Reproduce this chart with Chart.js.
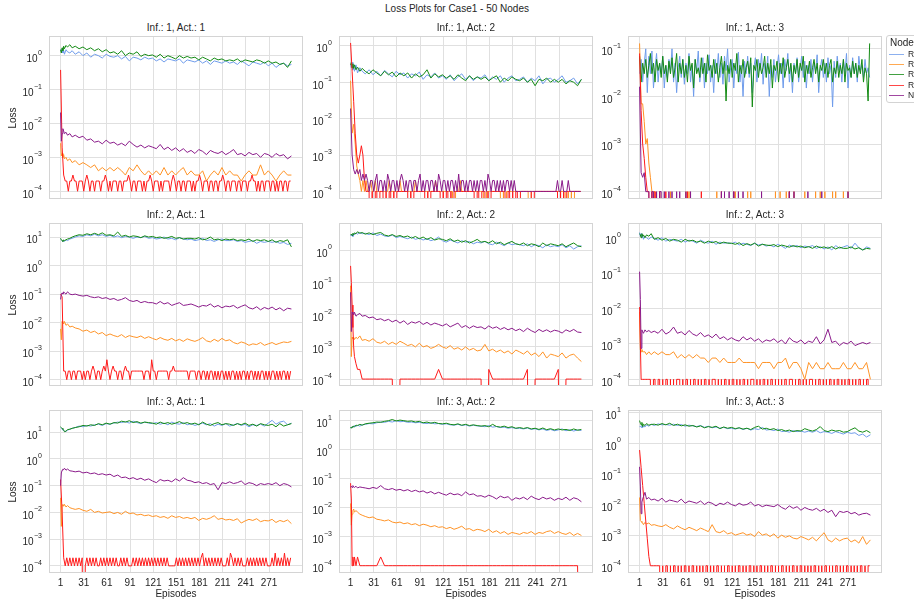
<!DOCTYPE html>
<html>
<head>
<meta charset="utf-8">
<script src="https://cdn.jsdelivr.net/npm/chart.js@4.4.1/dist/chart.umd.min.js"></script>
<style>
  html, body { margin: 0; padding: 0; background: #fff; }
  #fig { position: relative; width: 914px; height: 603px; overflow: hidden; font-family: "Liberation Sans", Arial, sans-serif; color: #262626; }
  .txt { position: absolute; white-space: nowrap; line-height: 1; }
  .panel { position: absolute; }
  #legend { position: absolute; left: 886px; top: 35px; width: 80px; height: 66px; border: 1px solid #d3d3d3; border-radius: 3px; background: #fff; }
</style>
</head>
<body>
<div id="fig"></div>
<script>
// ── Data ──────────────────────────────────────────────────────────────────────
// episodes (dense at the start, every 5 afterwards)
const EPISODES = [1, 2, 3, 4, 5, 6, 8, 10, 13, 16,
    20, 25, 30, 35, 40, 45, 50, 55, 60, 65,
    70, 75, 80, 85, 90, 95, 100, 105, 110, 115,
    120, 125, 130, 135, 140, 145, 150, 155, 160, 165,
    170, 175, 180, 185, 190, 195, 200, 205, 210, 215,
    220, 225, 230, 235, 240, 245, 250, 255, 260, 265,
    270, 275, 280, 285, 290, 295, 300];
// every other episode (1, 3, ... 299) for the spiky series
const EPISODES_DENSE = Array.from({ length: 150 }, (_, k) => 1 + 2 * k);
const X_TICKS = [1, 31, 61, 91, 121, 151, 181, 211, 241, 271];
const SERIES_LABELS = ['Random', 'Rank', 'Reach', 'Risk', 'None'];
const SERIES_COLORS = ['#6f9ceb', '#ff9326', '#138a13', '#ff1a1a', '#8a1a8a'];
// the spiky series are read in steps of 1e-4 (the loss is logged to 4 decimals)
const Q = 1e-4;

// Inf.: 1, Act.: 1
const i1a1Blue = [1.5, 1.3, 1.6, 1.2, 1.4, 1.1, 1.5, 1.3, 1.2, 1.4,
    1.1, 1.3, 1.0, 1.2, 0.9, 1.1, 1.0, 0.85, 1.1, 0.95,
    0.9, 1.0, 0.8, 0.95, 0.7, 0.9, 0.85, 0.75, 0.9, 0.8,
    0.85, 0.7, 0.8, 0.65, 0.8, 0.75, 0.7, 0.8, 0.6, 0.75,
    0.7, 0.65, 0.75, 0.6, 0.7, 0.55, 0.7, 0.65, 0.6, 0.7,
    0.6, 0.65, 0.55, 0.7, 0.6, 0.5, 0.65, 0.6, 0.55, 0.65,
    0.5, 0.6, 0.45, 0.55, 0.6, 0.5, 0.55];
const i1a1Orange = [2.6e-3, 1.1e-3, 1.3e-3, 1e-3, 1.2e-3, 9e-4, 1e-3, 8e-4, 9e-4, 7e-4,
    8e-4, 6e-4, 7e-4, 6e-4, 5e-4, 6e-4, 4e-4, 5e-4, 4e-4, 5e-4,
    4e-4, 5e-4, 4e-4, 3e-4, 5e-4, 4e-4, 6e-4, 4e-4, 3e-4, 4e-4,
    3e-4, 4e-4, 3e-4, 5e-4, 3e-4, 4e-4, 3e-4, 4e-4, 5e-4, 3e-4,
    4e-4, 3e-4, 3e-4, 4e-4, 2e-4, 3e-4, 4e-4, 3e-4, 5e-4, 3e-4,
    4e-4, 3e-4, 3e-4, 2e-4, 3e-4, 4e-4, 3e-4, 3e-4, 6e-4, 3e-4,
    4e-4, 3e-4, 2e-4, 3e-4, 4e-4, 3e-4, 3e-4];
const i1a1Green = [1.5, 1.2, 1.7, 1.4, 1.9, 1.6, 2.0, 1.8, 2.1, 1.7,
    1.9, 1.6, 1.8, 1.5, 1.7, 1.4, 1.6, 1.3, 1.5, 1.2,
    1.3, 1.1, 1.4, 1.0, 1.2, 1.1, 1.3, 0.95, 1.1, 1.0,
    1.05, 0.9, 1.1, 0.85, 1.0, 0.9, 0.8, 1.0, 0.85, 0.95,
    0.85, 0.9, 0.75, 0.9, 0.8, 0.7, 0.85, 0.75, 0.8, 0.7,
    0.75, 0.7, 0.8, 0.65, 0.75, 0.7, 0.65, 0.75, 0.7, 0.6,
    0.7, 0.6, 0.65, 0.55, 0.6, 0.45, 0.7];
const i1a1RedQ = [3800, 20, 3, 2, 2, 1, 2, 2, 3, 2,
    2, 1, 2, 2, 2, 1, 2, 3, 2, 1,
    2, 2, 1, 2, 2, 2, 1, 2, 2, 3,
    2, 1, 2, 1, 2, 2, 2, 1, 2, 2,
    1, 2, 2, 2, 3, 2, 1, 2, 2, 1,
    2, 2, 2, 1, 2, 1, 2, 2, 3, 2,
    1, 2, 2, 2, 1, 2, 1, 2, 2, 2,
    2, 1, 2, 3, 2, 1, 2, 2, 1, 2,
    2, 1, 2, 2, 2, 1, 2, 1, 2, 2,
    3, 2, 1, 2, 2, 2, 1, 2, 2, 1,
    2, 2, 1, 2, 2, 3, 2, 1, 2, 2,
    1, 2, 2, 2, 1, 2, 2, 1, 2, 2,
    2, 1, 2, 2, 3, 2, 2, 1, 2, 1,
    2, 2, 1, 2, 2, 2, 1, 2, 2, 1,
    2, 1, 2, 2, 1, 2, 2, 1, 2, 2];
const i1a1Purple = [0.021, 3e-3, 5e-3, 7e-3, 6e-3, 5e-3, 5.5e-3, 4.5e-3, 5e-3, 4e-3,
    4.5e-3, 3.8e-3, 4.2e-3, 3.2e-3, 3.5e-3, 2.8e-3, 3e-3, 2.5e-3, 3.2e-3, 2.6e-3,
    2.8e-3, 2.3e-3, 2.6e-3, 2.2e-3, 3e-3, 2.4e-3, 2e-3, 2.3e-3, 1.9e-3, 2.2e-3,
    2e-3, 1.8e-3, 2.4e-3, 1.7e-3, 2e-3, 1.6e-3, 1.9e-3, 1.5e-3, 1.8e-3, 1.4e-3,
    1.6e-3, 1.3e-3, 1.7e-3, 1.5e-3, 1.2e-3, 1.6e-3, 1.4e-3, 1.3e-3, 1.5e-3, 1.2e-3,
    1.4e-3, 1.7e-3, 1.2e-3, 1.3e-3, 1.1e-3, 1.4e-3, 1.2e-3, 1.3e-3, 1.0e-3, 1.3e-3,
    1.2e-3, 1.0e-3, 1.3e-3, 1.1e-3, 1.2e-3, 0.9e-3, 1.1e-3];

// Inf.: 1, Act.: 2
const i1a2Blue = [0.3, 0.25, 0.35, 0.22, 0.28, 0.2, 0.3, 0.18, 0.25, 0.2,
    0.17, 0.22, 0.16, 0.2, 0.15, 0.21, 0.17, 0.14, 0.2, 0.16,
    0.18, 0.13, 0.17, 0.15, 0.19, 0.12, 0.16, 0.14, 0.18, 0.13,
    0.15, 0.12, 0.16, 0.11, 0.14, 0.17, 0.12, 0.15, 0.11, 0.14,
    0.13, 0.16, 0.11, 0.14, 0.12, 0.15, 0.1, 0.13, 0.15, 0.11,
    0.12, 0.14, 0.1, 0.13, 0.11, 0.15, 0.09, 0.12, 0.13, 0.1,
    0.12, 0.15, 0.1, 0.11, 0.13, 0.09, 0.12];
const i1a2OrangeQ = [1100, 40, 70, 20, 5, 3, 2, 1, 2, 1,
    2, 1, 1, 2, 1, 1, 2, 1, 1, 1,
    1, 1, 1, 1, 1, 2, 1, 1, 1, 1,
    1, 1, 2, 1, 1, 1, 1, 1, 1, 1,
    1, 1, 2, 1, 1, 1, 1, 1, 1, 1,
    1, 1, 1, 1, 1, 2, 1, 1, 1, 1,
    1, 1, 1, 1, 1, 1, 1, 0, 1, 1,
    1, 2, 1, 1, 1, 1, 1, 1, 1, 1,
    1, 1, 1, 1, 1, 1, 1, 0, 1, 1,
    1, 1, 1, 1, 1, 1, 1, 1, 0, 1,
    0, 1, 1, 1, 1, 1, 1, 1, 1, 1,
    1, 1, 1, 1, 1, 1, 0, 1, 1, 1,
    1, 1, 1, 1, 1, 1, 1, 1, 1, 1,
    1, 1, 1, 1, 1, 1, 1, 1, 1, 1,
    0, 1, 0, 1, 0, 1, 1, 1, 1, 1];
const i1a2Green = [0.3, 0.35, 0.25, 0.32, 0.24, 0.3, 0.22, 0.26, 0.2, 0.24,
    0.2, 0.17, 0.22, 0.18, 0.15, 0.2, 0.16, 0.19, 0.14, 0.18,
    0.15, 0.18, 0.13, 0.17, 0.14, 0.16, 0.22, 0.13, 0.17, 0.14,
    0.16, 0.13, 0.15, 0.12, 0.16, 0.13, 0.11, 0.15, 0.12, 0.14,
    0.12, 0.14, 0.11, 0.13, 0.15, 0.1, 0.13, 0.11, 0.14, 0.12,
    0.11, 0.13, 0.1, 0.12, 0.08, 0.12, 0.11, 0.13, 0.1, 0.12,
    0.1, 0.12, 0.09, 0.11, 0.1, 0.08, 0.12];
const i1a2RedQ = [12000, 2000, 300, 40, 10, 6, 10, 18, 10, 2,
    1, 1, 1, 0, 1, 0, 1, 1, 0, 1,
    1, 1, 0, 1, 0, 1, 1, 0, 1, 0,
    1, 1, 1, 1, 1, 1, 1, 1, 0, 1,
    0, 1, 1, 1, 1, 1, 1, 1, 1, 0,
    1, 0, 1, 1, 1, 1, 1, 1, 1, 0,
    1, 0, 1, 1, 0, 1, 0, 1, 1, 1,
    1, 1, 1, 1, 1, 1, 1, 1, 1, 1,
    1, 0, 1, 1, 0, 1, 1, 1, 0, 1,
    0, 1, 1, 1, 1, 1, 1, 1, 1, 1,
    1, 0, 1, 1, 0, 1, 0, 1, 1, 0,
    1, 1, 1, 1, 1, 1, 1, 1, 0, 1,
    1, 1, 1, 1, 1, 1, 1, 1, 1, 1,
    1, 1, 1, 1, 1, 0, 1, 0, 1, 0,
    1, 1, 1, 1, 1, 1, 1, 1, 1, 1];
const i1a2PurpleQ = [190, 10, 4, 3, 4, 3, 4, 2, 3, 2,
    3, 2, 1, 2, 2, 1, 2, 3, 1, 2,
    2, 1, 2, 1, 3, 2, 1, 2, 2, 1,
    2, 1, 2, 3, 2, 1, 2, 1, 2, 2,
    1, 2, 2, 1, 2, 3, 1, 2, 1, 2,
    2, 1, 2, 2, 1, 2, 1, 3, 2, 1,
    2, 2, 1, 2, 1, 2, 2, 1, 2, 1,
    3, 1, 2, 2, 1, 2, 1, 2, 2, 1,
    2, 1, 2, 1, 2, 2, 1, 2, 1, 3,
    2, 1, 2, 2, 1, 2, 1, 2, 1, 2,
    1, 2, 2, 1, 2, 1, 2, 1, 1, 1,
    1, 1, 1, 1, 1, 1, 1, 1, 1, 1,
    1, 1, 1, 1, 1, 1, 1, 1, 1, 1,
    1, 1, 1, 1, 2, 1, 1, 2, 1, 1,
    1, 2, 1, 1, 1, 1, 1, 1, 1, 1];

// Inf.: 1, Act.: 3
const i1a3BlueD = [.03, .06, .02, .05, .1, .012, .07, .03, .09, .015,
    .04, .08, .02, .05, .03, .07, .015, .045, .025, .06,
    .035, .1, .02, .05, .012, .04, .07, .025, .06, .018,
    .05, .03, .08, .02, .045, .01, .06, .035, .09, .02,
    .04, .065, .015, .05, .03, .075, .02, .045, .012, .06,
    .03, .08, .025, .05, .018, .07, .035, .1, .02, .04,
    .06, .015, .05, .03, .085, .02, .045, .01, .055, .03,
    .07, .025, .05, .012, .04, .065, .02, .06, .035, .08,
    .018, .05, .03, .07, .01, .045, .025, .06, .02, .04,
    .075, .03, .05, .015, .06, .035, .08, .02, .045, .012,
    .05, .03, .065, .02, .04, .07, .025, .055, .015, .045,
    .03, .06, .02, .05, .035, .075, .012, .04, .06, .025,
    .05, .02, .065, .03, .045, .006, .055, .025, .07, .035,
    .05, .02, .06, .03, .08, .015, .045, .025, .065, .03,
    .05, .02, .07, .035, .045, .025, .06, .03, .04, .025];
const i1a3OrangeQ = [1300, 70, 70, 30, 10, 13, 4, 2, 1, 1,
    1, 0, 0, 1, 0, 0, 0, 0, 0, 0,
    1, 0, 0, 0, 0, 0, 0, 0, 0, 0,
    1, 0, 1, 0, 0, 0, 0, 0, 0, 0,
    0, 0, 0, 0, 0, 0, 0, 0, 0, 0,
    1, 0, 0, 0, 0, 0, 0, 0, 0, 0,
    0, 0, 1, 0, 0, 0, 0, 0, 0, 0,
    1, 0, 1, 0, 0, 0, 0, 0, 0, 0,
    0, 0, 0, 0, 0, 0, 0, 0, 1, 0,
    0, 1, 0, 0, 0, 1, 0, 1, 0, 0,
    1, 0, 0, 0, 0, 0, 0, 1, 0, 0,
    0, 0, 0, 0, 1, 0, 0, 1, 0, 0,
    1, 0, 0, 0, 0, 1, 0, 1, 0, 0,
    0, 0, 1, 0, 0, 1, 0, 0, 0, 0,
    0, 0, 0, 0, 0, 0, 0, 0, 0, 0];
const i1a3GreenD = [.07, .02, .05, .03, .06, .025, .045, .08, .03, .05,
    .02, .06, .035, .05, .025, .07, .03, .045, .02, .055,
    .03, .065, .025, .04, .08, .02, .05, .03, .06, .025,
    .045, .02, .07, .035, .05, .015, .06, .03, .04, .025,
    .065, .03, .05, .02, .075, .035, .045, .025, .06, .03,
    .05, .02, .04, .07, .03, .055, .008, .045, .03, .06,
    .025, .05, .035, .08, .02, .045, .03, .06, .025, .04,
    .055, .03, .065, .006, .045, .035, .06, .025, .05, .03,
    .04, .07, .025, .05, .03, .06, .015, .045, .035, .055,
    .02, .05, .03, .065, .025, .04, .06, .03, .05, .02,
    .045, .03, .06, .025, .05, .035, .07, .02, .045, .03,
    .055, .025, .04, .06, .03, .05, .02, .045, .035, .06,
    .03, .05, .025, .045, .06, .02, .04, .03, .055, .025,
    .045, .03, .06, .02, .05, .035, .04, .025, .055, .03,
    .05, .025, .045, .03, .06, .02, .04, .03, .008, .13];
const i1a3RedQ = [800, 50, 10, 5, 2, 1, 1, 0, 1, 0,
    1, 0, 0, 1, 0, 0, 0, 1, 0, 0,
    0, 0, 0, 0, 0, 0, 0, 0, 0, 0,
    0, 1, 0, 0, 0, 0, 0, 0, 0, 0,
    1, 0, 0, 0, 0, 0, 0, 0, 0, 0,
    0, 0, 0, 1, 0, 0, 0, 0, 0, 0,
    0, 1, 0, 0, 0, 0, 0, 0, 0, 0,
    0, 0, 0, 0, 0, 0, 0, 0, 0, 0,
    0, 0, 0, 0, 0, 0, 0, 0, 0, 0,
    0, 0, 0, 0, 0, 0, 0, 1, 0, 0,
    0, 0, 0, 0, 0, 0, 0, 0, 0, 0,
    0, 0, 0, 0, 0, 0, 0, 0, 0, 0,
    0, 0, 0, 0, 0, 0, 0, 0, 0, 0,
    0, 0, 0, 0, 0, 0, 0, 0, 0, 0,
    0, 0, 0, 0, 0, 0, 0, 0, 0, 0];
const i1a3PurpleQ = [160, 2.5, 2, 2.5, 1, 1, 1, 0, 1, 1,
    0, 1, 0, 1, 1, 0, 1, 0, 0, 1,
    0, 1, 0, 0, 1, 0, 1, 0, 0, 0,
    1, 0, 0, 1, 0, 0, 0, 0, 0, 0,
    0, 0, 0, 0, 0, 0, 0, 0, 0, 0,
    0, 0, 0, 1, 0, 1, 0, 0, 1, 0,
    0, 1, 0, 0, 1, 0, 0, 1, 0, 0,
    0, 0, 0, 0, 0, 0, 0, 0, 0, 1,
    0, 0, 0, 0, 0, 0, 0, 0, 0, 0,
    0, 0, 0, 0, 0, 0, 0, 1, 0, 0,
    1, 0, 0, 0, 0, 0, 0, 0, 0, 1,
    0, 0, 0, 0, 0, 0, 0, 0, 1, 0,
    0, 0, 0, 0, 0, 0, 0, 0, 0, 0,
    0, 0, 0, 0, 0, 1, 0, 0, 0, 0,
    0, 0, 0, 0, 0, 0, 0, 0, 0, 0];

// Inf.: 2, Act.: 1
const i2a1Blue = [8.5, 8, 7.5, 7, 7.5, 7, 8, 7.5, 8.5, 9,
    10, 11, 10.5, 12, 11, 12.5, 11, 12, 10.5, 11.5,
    10, 11, 9.5, 10.5, 10, 9, 10, 9.5, 10.5, 9,
    9.5, 8.5, 9, 10, 8.5, 9, 8, 9.5, 8.5, 8,
    8.5, 7.5, 8, 9, 7.5, 8, 7, 8, 8.5, 7.5,
    7.5, 8, 7, 7.5, 6.5, 7, 7.5, 6, 7, 6.5,
    7, 6.5, 7, 6, 6.5, 5.5, 6];
const i2a1Orange = [6e-3, 2.5e-3, 0.011, 0.01, 9e-3, 0.011, 8e-3, 9e-3, 7e-3, 7.5e-3,
    6.5e-3, 6e-3, 5e-3, 5.5e-3, 4.5e-3, 5e-3, 4e-3, 4.5e-3, 3.5e-3, 4e-3,
    3.5e-3, 3.2e-3, 3.8e-3, 3e-3, 3.5e-3, 3.2e-3, 3e-3, 3.4e-3, 2.8e-3, 3.2e-3,
    2.8e-3, 2.5e-3, 3e-3, 2.6e-3, 2.4e-3, 2.8e-3, 2.3e-3, 2.6e-3, 2.2e-3, 2.7e-3,
    2.4e-3, 2.2e-3, 2.5e-3, 3e-3, 2.3e-3, 2.1e-3, 2.6e-3, 2.2e-3, 2.8e-3, 2.3e-3,
    2.5e-3, 2e-3, 1.8e-3, 2.1e-3, 1.9e-3, 1.6e-3, 1.8e-3, 1.7e-3, 2e-3, 1.6e-3,
    1.8e-3, 2e-3, 1.7e-3, 1.9e-3, 2.1e-3, 2e-3, 2.2e-3];
const i2a1Green = [9, 8, 7.5, 7, 8, 7.5, 8, 8.5, 9, 10,
    11, 12, 11.5, 13, 12, 13.5, 12, 14, 11.5, 12,
    11, 15, 10.5, 11.5, 10, 11, 10.5, 9.5, 11, 10,
    10.5, 9.5, 10, 9, 9.5, 10.5, 9, 9.5, 8.5, 9,
    9, 8.5, 9.5, 8, 8.5, 10, 8, 8.5, 7.5, 8.5,
    8, 8.5, 7.5, 8, 7.5, 8.5, 7, 8, 7.5, 8,
    7, 8, 6.5, 7.5, 7, 8, 4.5];
const i2a1RedQ = [1000, 800, 2, 2, 1, 2, 2, 1, 2, 2,
    1, 2, 2, 2, 1, 2, 1, 2, 2, 1,
    2, 3, 2, 1, 2, 2, 1, 2, 3, 2,
    5, 2, 1, 2, 3, 2, 2, 1, 2, 2,
    1, 2, 3, 2, 2, 1, 2, 2, 2, 2,
    2, 2, 2, 2, 1, 2, 2, 2, 1, 5,
    2, 2, 1, 2, 2, 2, 2, 2, 2, 2,
    1, 2, 2, 3, 2, 2, 2, 2, 2, 2,
    2, 2, 2, 1, 2, 2, 2, 2, 1, 2,
    2, 1, 2, 2, 1, 2, 1, 2, 2, 1,
    2, 1, 2, 1, 2, 2, 1, 2, 1, 2,
    1, 2, 2, 1, 2, 1, 2, 1, 2, 2,
    1, 2, 1, 2, 2, 1, 2, 1, 2, 1,
    2, 2, 1, 2, 1, 2, 1, 2, 2, 1,
    2, 1, 2, 1, 2, 2, 1, 2, 1, 2];
const i2a1Purple = [0.065, 0.1, 0.11, 0.1, 0.12, 0.11, 0.1, 0.12, 0.1, 0.095,
    0.1, 0.09, 0.085, 0.09, 0.08, 0.075, 0.08, 0.07, 0.075, 0.065,
    0.07, 0.06, 0.065, 0.075, 0.06, 0.055, 0.06, 0.05, 0.055, 0.05,
    0.05, 0.045, 0.055, 0.045, 0.05, 0.04, 0.045, 0.05, 0.04, 0.042,
    0.045, 0.04, 0.035, 0.04, 0.038, 0.045, 0.035, 0.04, 0.033, 0.038,
    0.036, 0.04, 0.032, 0.037, 0.042, 0.033, 0.03, 0.036, 0.028, 0.034,
    0.03, 0.035, 0.028, 0.033, 0.026, 0.032, 0.03];

// Inf.: 2, Act.: 2
const i2a2Blue = [3, 2.8, 3.2, 2.7, 3.3, 3, 3.5, 3.2, 3.6, 3.3,
    3.4, 3.1, 3.5, 2.9, 3.2, 2.8, 2.7, 3, 2.5, 2.7,
    2.5, 2.3, 2.6, 2.2, 2.4, 2.1, 2.3, 2, 2.2, 2.6,
    2, 1.8, 2.1, 1.9, 1.7, 2, 1.8, 1.9, 1.6, 1.8,
    1.7, 1.9, 1.6, 1.5, 1.8, 1.6, 1.4, 1.7, 1.5, 1.6,
    1.5, 1.4, 1.6, 1.3, 1.5, 1.4, 1.2, 1.5, 1.3, 1.4,
    1.3, 1.5, 1.2, 1.4, 1.1, 1.3, 1.4];
const i2a2Orange = [0.08, 5e-4, 2e-3, 1.8e-3, 2e-3, 1.7e-3, 2e-3, 1.8e-3, 2.2e-3, 1.6e-3,
    1.7e-3, 1.5e-3, 1.8e-3, 1.4e-3, 1.3e-3, 1.5e-3, 1.2e-3, 1.4e-3, 1.2e-3, 1.5e-3,
    1.3e-3, 1.1e-3, 1.2e-3, 1e-3, 1.3e-3, 1e-3, 1.1e-3, 9e-4, 1e-3, 1.2e-3,
    1e-3, 9e-4, 1.1e-3, 8.5e-4, 9.5e-4, 8e-4, 1e-3, 8e-4, 9e-4, 7.5e-4,
    8e-4, 1.2e-3, 7.5e-4, 8.5e-4, 7e-4, 8e-4, 6.5e-4, 7.5e-4, 6e-4, 8e-4,
    7e-4, 6e-4, 7.5e-4, 5.5e-4, 6.5e-4, 5e-4, 7e-4, 4.5e-4, 6e-4, 5.5e-4,
    5e-4, 6.5e-4, 4.5e-4, 5.5e-4, 6e-4, 4.5e-4, 3.5e-4];
const i2a2Green = [3, 3.2, 2.9, 3.4, 3.1, 3.5, 3.3, 3.8, 3.4, 3.6,
    3.2, 3.5, 3.1, 3.4, 3.6, 3, 2.8, 3.1, 2.7, 2.9,
    2.6, 2.8, 2.4, 2.7, 2.3, 2.6, 2.2, 2.5, 2.1, 2.3,
    2.2, 2, 2.3, 1.9, 2.1, 1.8, 2, 1.7, 1.9, 2.2,
    1.8, 1.9, 1.7, 2, 1.6, 1.8, 1.5, 1.7, 1.9, 1.6,
    1.5, 1.7, 1.4, 1.6, 1.5, 1.3, 1.7, 1.4, 1.6, 1.5,
    1.4, 1.6, 1.3, 1.5, 1.7, 1.4, 1.3];
const i2a2Red = [0.33, 0.1, 0.02, 4e-3, 1e-3, 5e-4, 3e-4, 2e-4, 2e-4, 1e-4,
    1e-4, 1e-4, 1e-4, 1e-4, 1e-4, 1e-4, 1e-4, 1e-4, 0, 1e-4,
    1e-4, 1e-4, 1e-4, 1e-4, 1e-4, 1e-4, 1e-4, 1e-4, 1e-4, 2e-4,
    1e-4, 1e-4, 1e-4, 1e-4, 1e-4, 1e-4, 1e-4, 1e-4, 1e-4, 1e-4,
    1e-4, 0, 2e-4, 1e-4, 1e-4, 1e-4, 1e-4, 1e-4, 1e-4, 1e-4,
    1e-4, 1e-4, 2e-4, 0, 1e-4, 1e-4, 1e-4, 1e-4, 1e-4, 1e-4,
    2e-4, 0, 1e-4, 1e-4, 1e-4, 1e-4, 1e-4];
const i2a2Purple = [0.05, 3e-3, 0.012, 0.011, 0.01, 0.012, 0.009, 0.01, 0.011, 0.009,
    0.0095, 0.008, 0.0085, 0.007, 0.0075, 0.0065, 0.0072, 0.006, 0.0068, 0.0055,
    0.0065, 0.005, 0.006, 0.0055, 0.0062, 0.005, 0.0058, 0.0048, 0.0055, 0.005,
    0.0045, 0.0052, 0.0042, 0.0048, 0.0055, 0.004, 0.0046, 0.0038, 0.0045, 0.004,
    0.0042, 0.0036, 0.0045, 0.0038, 0.0042, 0.0035, 0.004, 0.0034, 0.0038, 0.0032,
    0.0036, 0.003, 0.0038, 0.0032, 0.0028, 0.0035, 0.003, 0.0034, 0.0029, 0.0033,
    0.0031, 0.0027, 0.0034, 0.003, 0.0035, 0.0029, 0.0028];

// Inf.: 2, Act.: 3
const i2a3Blue = [1.4, 1.1, 1.3, 1.0, 1.2, 0.9, 1.1, 1.0, 0.9, 1.05,
    0.95, 0.85, 1.0, 0.8, 0.9, 0.85, 0.8, 0.9, 0.75, 0.85,
    0.8, 0.7, 0.85, 0.75, 0.7, 0.8, 0.65, 0.75, 0.7, 0.72,
    0.68, 0.75, 0.62, 0.7, 0.65, 0.6, 0.7, 0.62, 0.66, 0.58,
    0.62, 0.55, 0.65, 0.58, 0.5, 0.62, 0.56, 0.6, 0.52, 0.58,
    0.55, 0.6, 0.5, 0.56, 0.48, 0.55, 0.45, 0.6, 0.5, 0.55,
    0.6, 0.5, 0.7, 0.52, 0.45, 0.55, 0.5];
const i2a3Orange = [8e-3, 7e-4, 6e-4, 7e-4, 6e-4, 6e-4, 6e-4, 5e-4, 6e-4, 5e-4,
    6e-4, 5e-4, 6e-4, 5e-4, 5e-4, 6e-4, 4e-4, 5e-4, 4e-4, 5e-4,
    4e-4, 5e-4, 4e-4, 4e-4, 3e-4, 4e-4, 4e-4, 3e-4, 4e-4, 3e-4,
    3e-4, 3e-4, 4e-4, 3e-4, 3e-4, 3e-4, 3e-4, 2e-4, 3e-4, 3e-4,
    3e-4, 2e-4, 3e-4, 3e-4, 4e-4, 2e-4, 3e-4, 3e-4, 2e-4, 1e-4,
    3e-4, 2e-4, 3e-4, 2e-4, 2e-4, 3e-4, 2e-4, 2e-4, 2e-4, 3e-4,
    2e-4, 2e-4, 3e-4, 2e-4, 2e-4, 3e-4, 1e-4];
const i2a3Green = [1.3, 1.2, 1.0, 1.3, 1.1, 1.2, 1.0, 1.2, 1.1, 1.3,
    0.9, 1.0, 0.85, 0.95, 0.8, 0.9, 0.85, 0.75, 0.9, 0.8,
    0.85, 0.75, 0.8, 0.7, 0.8, 0.72, 0.78, 0.68, 0.75, 0.7,
    0.7, 0.65, 0.72, 0.6, 0.68, 0.62, 0.7, 0.58, 0.65, 0.62,
    0.6, 0.64, 0.56, 0.62, 0.58, 0.54, 0.6, 0.55, 0.58, 0.52,
    0.56, 0.5, 0.58, 0.52, 0.55, 0.5, 0.56, 0.48, 0.54, 0.5,
    0.5, 0.55, 0.48, 0.52, 0.45, 0.5, 0.48];
const i2a3RedQ = [110, 1, 1, 1, 1, 1, 1, 1, 0, 1,
    1, 0, 1, 1, 0, 1, 0, 1, 1, 0,
    1, 0, 1, 0, 1, 1, 1, 0, 1, 0,
    1, 1, 0, 1, 0, 1, 1, 0, 1, 0,
    1, 0, 1, 1, 0, 1, 0, 1, 1, 1,
    0, 1, 0, 1, 0, 1, 1, 0, 1, 0,
    1, 1, 0, 1, 0, 1, 0, 1, 1, 0,
    1, 0, 1, 1, 1, 0, 1, 0, 1, 0,
    1, 1, 0, 1, 0, 1, 1, 0, 1, 0,
    1, 0, 1, 0, 1, 1, 0, 1, 1, 1,
    0, 1, 0, 1, 1, 0, 1, 0, 1, 0,
    1, 1, 1, 0, 1, 0, 1, 1, 0, 1,
    0, 1, 0, 1, 1, 0, 1, 0, 1, 1,
    0, 1, 0, 1, 0, 1, 1, 0, 1, 0,
    1, 0, 1, 1, 0, 1, 0, 1, 1, 0];
const i2a3Purple = [0.11, 0.018, 7.5e-4, 2.5e-3, 2.2e-3, 2e-3, 2.5e-3, 2.2e-3, 2.4e-3, 2.1e-3,
    2.3e-3, 2e-3, 2.6e-3, 1.9e-3, 2.2e-3, 3e-3, 2e-3, 2.2e-3, 1.8e-3, 2.4e-3,
    1.9e-3, 1.7e-3, 2.1e-3, 1.6e-3, 1.8e-3, 1.5e-3, 1.9e-3, 1.4e-3, 1.6e-3, 1.3e-3,
    1.5e-3, 1.3e-3, 1.2e-3, 1.6e-3, 1.3e-3, 1.5e-3, 1.2e-3, 1.4e-3, 1.1e-3, 1.3e-3,
    1.2e-3, 1.4e-3, 1.1e-3, 1.3e-3, 1.0e-3, 1.5e-3, 1.2e-3, 1.1e-3, 1.3e-3, 1.0e-3,
    1.2e-3, 1.1e-3, 1.6e-3, 1.0e-3, 1.3e-3, 2.6e-3, 1.1e-3, 1.2e-3, 0.9e-3, 1.1e-3,
    1.0e-3, 1.2e-3, 0.9e-3, 1.0e-3, 1.1e-3, 1.0e-3, 1.1e-3];

// Inf.: 3, Act.: 1
const i3a1Blue = [15, 14, 13, 12, 11.5, 11, 10.5, 12, 13, 14,
    15, 17, 16, 18, 17, 19, 20, 18, 21, 20,
    22, 24, 23, 25, 22, 26, 23, 21, 24, 22,
    21, 23, 20, 22, 19, 24, 21, 20, 23, 19,
    21, 18, 20, 22, 19, 21, 17, 20, 18, 21,
    17, 19, 21, 18, 20, 16, 19, 18, 20, 17,
    22, 28, 20, 24, 26, 19, 22];
const i3a1Orange = [0.035, 3e-3, 0.018, 0.02, 0.017, 0.02, 0.016, 0.018, 0.015, 0.014,
    0.013, 0.014, 0.012, 0.011, 0.013, 0.01, 0.011, 0.0095, 0.01, 0.0105,
    0.009, 0.01, 0.0085, 0.011, 0.009, 0.0095, 0.008, 0.0085, 0.0075, 0.008,
    0.007, 0.0075, 0.0065, 0.007, 0.006, 0.0075, 0.0065, 0.007, 0.006, 0.0065,
    0.0058, 0.0065, 0.005, 0.006, 0.0055, 0.0062, 0.0075, 0.0055, 0.006, 0.0052,
    0.0055, 0.005, 0.0058, 0.004, 0.0048, 0.0055, 0.005, 0.0058, 0.0045, 0.005,
    0.0048, 0.0055, 0.0042, 0.005, 0.0045, 0.0052, 0.0038];
const i3a1Green = [16, 15, 14, 13, 12, 10.5, 11, 12.5, 13, 14,
    15, 16, 18, 17, 19, 18, 21, 19, 22, 20,
    23, 22, 26, 24, 27, 23, 25, 22, 24, 23,
    22, 20, 24, 21, 23, 20, 22, 25, 21, 23,
    20, 22, 19, 24, 20, 18, 21, 23, 19, 21,
    20, 18, 21, 19, 22, 18, 20, 17, 21, 19,
    18, 20, 16, 21, 17, 19, 21];
const i3a1RedQ = [1700, 100, 2, 1, 2, 1, 2, 1, 2, 1,
    2, 1, 2, 1, 2, 0, 1, 2, 1, 2,
    1, 2, 1, 2, 1, 1, 2, 1, 2, 1,
    2, 1, 2, 1, 2, 1, 2, 1, 1, 2,
    1, 2, 1, 2, 1, 1, 1, 2, 1, 2,
    1, 2, 1, 2, 1, 2, 1, 2, 1, 2,
    1, 2, 1, 2, 1, 2, 1, 2, 1, 2,
    1, 1, 1, 1, 1, 2, 1, 2, 1, 2,
    1, 2, 1, 2, 1, 2, 1, 2, 1, 2,
    1, 2, 3, 1, 2, 1, 2, 1, 2, 1,
    2, 1, 2, 1, 2, 1, 1, 1, 2, 1,
    3, 2, 1, 2, 1, 2, 1, 2, 1, 1,
    1, 2, 1, 2, 1, 2, 1, 2, 1, 2,
    1, 2, 1, 2, 1, 1, 1, 2, 1, 3,
    1, 2, 1, 2, 1, 3, 1, 2, 1, 2];
const i3a1Purple = [0.1, 0.3, 0.38, 0.42, 0.4, 0.45, 0.38, 0.42, 0.36, 0.35,
    0.33, 0.35, 0.3, 0.32, 0.28, 0.3, 0.26, 0.28, 0.25, 0.27,
    0.22, 0.25, 0.2, 0.21, 0.18, 0.2, 0.17, 0.19, 0.16, 0.18,
    0.15, 0.13, 0.17, 0.15, 0.16, 0.14, 0.18, 0.15, 0.2, 0.16,
    0.15, 0.13, 0.14, 0.12, 0.13, 0.11, 0.12, 0.07, 0.13, 0.12,
    0.14, 0.12, 0.13, 0.15, 0.11, 0.13, 0.12, 0.1, 0.12, 0.11,
    0.12, 0.11, 0.13, 0.1, 0.12, 0.11, 0.09];

// Inf.: 3, Act.: 2
const i3a2Blue = [5.5, 6, 5.8, 6.5, 6, 6.8, 6.2, 7, 6.5, 7.2,
    7.5, 8, 7.8, 8.5, 9, 8.8, 9.5, 9, 10, 9.2,
    9.5, 8.8, 9, 8.5, 8.8, 8.2, 8, 8.5, 7.8, 8,
    7.5, 7.8, 7.2, 7, 7.5, 6.8, 7.2, 6.5, 7, 6.6,
    6.5, 6.2, 6.8, 6, 6.3, 5.8, 6, 5.5, 5.8, 5.4,
    5.5, 5.2, 5.6, 5, 5.3, 4.8, 5.2, 4.6, 5, 4.5,
    4.8, 5.2, 4.5, 4.9, 4.4, 4.8, 4.6];
const i3a2Orange = [0.014, 2.5e-3, 6e-3, 8e-3, 9e-3, 7e-3, 8e-3, 7e-3, 6e-3, 5.5e-3,
    5e-3, 4.5e-3, 4.8e-3, 4e-3, 3.8e-3, 3.5e-3, 3.8e-3, 3.2e-3, 3e-3, 3.2e-3,
    2.8e-3, 3e-3, 2.6e-3, 2.8e-3, 2.4e-3, 2.7e-3, 2.5e-3, 2.2e-3, 2.4e-3, 2.1e-3,
    2.2e-3, 1.9e-3, 2.1e-3, 1.8e-3, 2e-3, 2.3e-3, 1.8e-3, 1.9e-3, 1.6e-3, 1.8e-3,
    1.7e-3, 1.5e-3, 1.8e-3, 1.4e-3, 1.6e-3, 1.3e-3, 1.5e-3, 1.2e-3, 1.4e-3, 1.3e-3,
    1.2e-3, 1.4e-3, 1.3e-3, 1.5e-3, 1.2e-3, 1.4e-3, 1.3e-3, 1.5e-3, 1.6e-3, 1.3e-3,
    1.5e-3, 1.3e-3, 1.2e-3, 1.4e-3, 1.1e-3, 1.3e-3, 1.1e-3];
const i3a2Green = [6, 5.5, 6.2, 6, 6.5, 6.2, 7, 6.8, 7.5, 7,
    7.8, 8.2, 8.5, 9, 8.8, 9.5, 10, 11, 9.8, 10.5,
    10, 9.5, 9.8, 9, 9.5, 8.5, 9, 8.2, 8.8, 8,
    7.8, 8.2, 7.5, 7.2, 7.8, 7, 7.5, 6.8, 7.2, 6.8,
    6.5, 6.8, 6.2, 7.5, 6.3, 6, 6.5, 5.8, 6.2, 5.5,
    5.8, 5.4, 5.8, 5.2, 5.5, 5, 5.6, 4.9, 5.3, 4.8,
    5.2, 4.8, 5, 4.6, 5.2, 4.7, 5];
const i3a2Red = [0.07, 0.02, 1e-4, 2e-4, 1e-4, 2e-4, 1e-4, 2e-4, 1e-4, 1e-4,
    1e-4, 1e-4, 1e-4, 1e-4, 2e-4, 1e-4, 1e-4, 1e-4, 1e-4, 1e-4,
    1e-4, 1e-4, 1e-4, 1e-4, 1e-4, 1e-4, 1e-4, 1e-4, 1e-4, 1e-4,
    1e-4, 1e-4, 1e-4, 1e-4, 1e-4, 1e-4, 1e-4, 1e-4, 1e-4, 1e-4,
    1e-4, 1e-4, 1e-4, 1e-4, 1e-4, 1e-4, 1e-4, 1e-4, 1e-4, 1e-4,
    1e-4, 1e-4, 1e-4, 1e-4, 1e-4, 1e-4, 1e-4, 1e-4, 1e-4, 1e-4,
    1e-4, 1e-4, 1e-4, 1e-4, 1e-4, 1e-4, 0];
const i3a2Purple = [0.05, 0.055, 0.05, 0.058, 0.052, 0.05, 0.055, 0.048, 0.052, 0.05,
    0.048, 0.045, 0.05, 0.046, 0.058, 0.045, 0.042, 0.046, 0.04, 0.043,
    0.038, 0.042, 0.036, 0.04, 0.035, 0.038, 0.032, 0.036, 0.03, 0.034,
    0.03, 0.027, 0.032, 0.028, 0.03, 0.026, 0.035, 0.028, 0.03, 0.025,
    0.026, 0.023, 0.027, 0.024, 0.02, 0.025, 0.022, 0.024, 0.018, 0.022,
    0.02, 0.023, 0.019, 0.025, 0.021, 0.019, 0.023, 0.02, 0.022, 0.018,
    0.021, 0.019, 0.023, 0.018, 0.022, 0.02, 0.016];

// Inf.: 3, Act.: 3
const i3a3Blue = [3.5, 3.6, 3.3, 3.8, 3.2, 3.7, 3.4, 4, 3.6, 4.2,
    3.8, 4.3, 4, 4.1, 3.9, 4.2, 3.8, 4.1, 3.6, 3.9,
    3.7, 3.5, 3.8, 3.3, 3.6, 3.2, 3.4, 3.1, 3.3, 3,
    3.1, 2.9, 3.2, 2.8, 3.1, 2.7, 3, 2.8, 3.3, 2.7,
    2.8, 2.6, 2.9, 2.4, 2.5, 2.3, 2.6, 2.4, 2.5, 2.3,
    2.5, 2.3, 2.6, 2.2, 2.4, 2.3, 2.1, 2.4, 2.2, 2,
    2.3, 2.1, 2.2, 1.8, 2, 1.6, 1.9];
const i3a3Orange = [0.017, 3e-3, 2.8e-3, 2.6e-3, 2.5e-3, 2.2e-3, 2.6e-3, 2.3e-3, 2.5e-3, 2.1e-3,
    2.2e-3, 2e-3, 1.9e-3, 2.2e-3, 1.8e-3, 1.6e-3, 2e-3, 1.7e-3, 1.5e-3, 1.8e-3,
    1.6e-3, 1.4e-3, 1.7e-3, 1.5e-3, 1.3e-3, 2.2e-3, 1.3e-3, 1.2e-3, 1.4e-3, 1.1e-3,
    1.2e-3, 1e-3, 1.1e-3, 1.2e-3, 1e-3, 1.1e-3, 0.9e-3, 1.3e-3, 1e-3, 1.1e-3,
    0.9e-3, 1.1e-3, 0.8e-3, 1e-3, 0.85e-3, 0.95e-3, 0.8e-3, 0.75e-3, 0.9e-3, 0.8e-3,
    0.7e-3, 0.85e-3, 0.65e-3, 0.9e-3, 1.2e-3, 0.7e-3, 0.6e-3, 0.8e-3, 0.65e-3, 0.75e-3,
    0.8e-3, 0.6e-3, 0.7e-3, 0.55e-3, 0.9e-3, 0.5e-3, 0.7e-3];
const i3a3Green = [5.5, 4.5, 4, 4.8, 3.5, 4.2, 3.8, 4.4, 3.9, 4.1,
    4.2, 3.9, 4.4, 4, 4.5, 3.8, 4.2, 3.7, 4, 3.6,
    3.8, 3.4, 3.7, 3.2, 3.5, 3.3, 3.6, 3, 3.4, 3.1,
    3.3, 3, 3.2, 2.9, 3.1, 2.8, 3.3, 3.6, 2.9, 3.1,
    2.8, 3, 2.6, 2.8, 2.5, 2.7, 2.4, 2.6, 2.5, 3,
    2.7, 2.5, 2.8, 3.5, 2.6, 2.4, 2.7, 2.5, 2.6, 2.3,
    2.4, 2.8, 3.2, 2.5, 2.3, 2.6, 2.2];
const i3a3RedQ = [6000, 1600, 420, 110, 29, 7.6, 2, 1, 1, 1,
    1, 1, 1, 1, 0, 1, 0, 1, 1, 0,
    1, 0, 1, 1, 0, 1, 0, 1, 0, 1,
    1, 0, 1, 0, 1, 1, 0, 1, 0, 1,
    0, 1, 0, 1, 1, 0, 1, 0, 1, 0,
    1, 1, 0, 1, 0, 1, 0, 1, 1, 0,
    1, 0, 1, 0, 1, 1, 0, 1, 0, 1,
    0, 1, 1, 0, 1, 0, 1, 0, 1, 1,
    0, 1, 0, 1, 0, 1, 1, 0, 1, 0,
    1, 0, 1, 1, 0, 1, 0, 1, 0, 1,
    1, 0, 1, 0, 1, 1, 0, 1, 0, 1,
    0, 1, 0, 1, 1, 0, 1, 0, 1, 0,
    1, 1, 0, 1, 0, 1, 0, 1, 1, 0,
    1, 0, 1, 0, 1, 1, 0, 1, 0, 1,
    0, 1, 0, 1, 1, 0, 1, 0, 1, 1];
const i3a3Purple = [0.17, 0.04, 5e-3, 0.012, 0.015, 0.018, 0.025, 0.015, 0.017, 0.014,
    0.015, 0.013, 0.016, 0.012, 0.014, 0.013, 0.012, 0.015, 0.011, 0.013,
    0.012, 0.011, 0.013, 0.01, 0.012, 0.011, 0.009, 0.011, 0.01, 0.012,
    0.01, 0.009, 0.011, 0.0095, 0.01, 0.012, 0.009, 0.01, 0.0085, 0.0095,
    0.009, 0.0085, 0.01, 0.008, 0.007, 0.009, 0.0075, 0.0085, 0.0065, 0.008,
    0.007, 0.0065, 0.0075, 0.006, 0.007, 0.0055, 0.0065, 0.004, 0.006, 0.0055,
    0.006, 0.005, 0.0055, 0.0045, 0.005, 0.0052, 0.0045];

// ── Series wiring ─────────────────────────────────────────────────────────────
const sparse = (vals) => ({ x: EPISODES, y: vals });
const dense = (vals, unit = 1) => ({ x: EPISODES_DENSE, y: vals.map((v) => v * unit) });

const PANELS = [
    { inf: 1, act: 1, series: [sparse(i1a1Blue), sparse(i1a1Orange), sparse(i1a1Green), dense(i1a1RedQ, Q), sparse(i1a1Purple)] },
    { inf: 1, act: 2, series: [sparse(i1a2Blue), dense(i1a2OrangeQ, Q), sparse(i1a2Green), dense(i1a2RedQ, Q), dense(i1a2PurpleQ, Q)] },
    { inf: 1, act: 3, series: [dense(i1a3BlueD), dense(i1a3OrangeQ, Q), dense(i1a3GreenD), dense(i1a3RedQ, Q), dense(i1a3PurpleQ, Q)] },
    { inf: 2, act: 1, series: [sparse(i2a1Blue), sparse(i2a1Orange), sparse(i2a1Green), dense(i2a1RedQ, Q), sparse(i2a1Purple)] },
    { inf: 2, act: 2, series: [sparse(i2a2Blue), sparse(i2a2Orange), sparse(i2a2Green), sparse(i2a2Red), sparse(i2a2Purple)] },
    { inf: 2, act: 3, series: [sparse(i2a3Blue), sparse(i2a3Orange), sparse(i2a3Green), dense(i2a3RedQ, Q), sparse(i2a3Purple)] },
    { inf: 3, act: 1, series: [sparse(i3a1Blue), sparse(i3a1Orange), sparse(i3a1Green), dense(i3a1RedQ, Q), sparse(i3a1Purple)] },
    { inf: 3, act: 2, series: [sparse(i3a2Blue), sparse(i3a2Orange), sparse(i3a2Green), sparse(i3a2Red), sparse(i3a2Purple)] },
    { inf: 3, act: 3, series: [sparse(i3a3Blue), sparse(i3a3Orange), sparse(i3a3Green), dense(i3a3RedQ, Q), sparse(i3a3Purple)] },
];
// y-axis limits per panel (log axis)
const Y_LIMITS = [[5.9e-5, 3.8], [6.2e-5, 1.86], [7.0e-5, 0.186],
    [6e-5, 31], [6.1e-5, 7.1], [6.5e-5, 2.6],
    [5.4e-5, 68], [5.6e-5, 23.4], [5.8e-5, 12.2]];

// ── Layout ────────────────────────────────────────────────────────────────────
const FONT = '"Liberation Sans", Arial, sans-serif';
const COL_LEFT = [49, 339, 628];
const ROW_TOP = [36, 223, 410];
const PLOT_W = 254, PLOT_H = 163;
const AX_W = 46, AX_H = 16, PAD = 3;
// matplotlib clips non-positive values on a log axis far below the view
const LOG_FLOOR = 1e-12;

const fig = document.getElementById('fig');

function addText(text, x, y, size, extra) {
    const el = document.createElement('div');
    el.className = 'txt';
    el.textContent = text;
    el.style.fontSize = size + 'px';
    el.style.left = x + 'px';
    el.style.top = y + 'px';
    el.style.transform = 'translate(-50%, -50%)' + (extra || '');
    fig.appendChild(el);
    return el;
}

const framePlugin = {
    id: 'frame',
    afterDraw(chart) {
        const { ctx, chartArea: a } = chart;
        ctx.save();
        ctx.strokeStyle = '#d4d4d4';
        ctx.lineWidth = 1;
        ctx.strokeRect(Math.round(a.left) + 0.5, Math.round(a.top) + 0.5,
            Math.round(a.right - a.left) - 1, Math.round(a.bottom - a.top) - 1);
        ctx.restore();
    },
};

// "10" with a raised exponent, like matplotlib's log tick labels
const logTickPlugin = {
    id: 'logTicks',
    afterDraw(chart) {
        const { ctx, chartArea, scales: { y } } = chart;
        ctx.save();
        ctx.fillStyle = '#262626';
        ctx.textAlign = 'left';
        ctx.textBaseline = 'alphabetic';
        const right = chartArea.left - 7;
        y.ticks.forEach((t) => {
            const py = y.getPixelForValue(t.value);
            const exp = String(Math.round(Math.log10(t.value))).replace('-', '\u2212');
            ctx.font = `7px ${FONT}`;
            const ew = ctx.measureText(exp).width;
            ctx.fillText(exp, right - ew, py - 1);
            ctx.font = `10px ${FONT}`;
            const bw = ctx.measureText('10').width;
            ctx.fillText('10', right - ew - bw - 0.5, py + 6.3);
        });
        ctx.restore();
    },
};

// ── Panels ────────────────────────────────────────────────────────────────────
addText('Loss Plots for Case1 - 50 Nodes', 457, 9, 10);

PANELS.forEach((p, idx) => {
    const r = Math.floor(idx / 3), c = idx % 3;
    const [yMin, yMax] = Y_LIMITS[idx];

    const box = document.createElement('div');
    box.className = 'panel';
    box.style.left = (COL_LEFT[c] - AX_W) + 'px';
    box.style.top = (ROW_TOP[r] - PAD) + 'px';
    const canvas = document.createElement('canvas');
    canvas.width = AX_W + PLOT_W + PAD;
    canvas.height = PAD + PLOT_H + AX_H;
    box.appendChild(canvas);
    fig.appendChild(box);

    addText(`Inf.: ${p.inf}, Act.: ${p.act}`, COL_LEFT[c] + PLOT_W / 2, ROW_TOP[r] - 8, 10);

    new Chart(canvas, {
        type: 'line',
        data: {
            datasets: p.series.map((s, k) => ({
                label: SERIES_LABELS[k],
                data: s.y.map((v, i) => ({ x: s.x[i], y: v > 0 ? v : LOG_FLOOR })),
                borderColor: SERIES_COLORS[k],
                borderWidth: 1,
                pointRadius: 0,
                tension: 0,
                order: SERIES_COLORS.length - k,
            })),
        },
        options: {
            responsive: false,
            animation: false,
            events: [],
            parsing: { xAxisKey: 'x', yAxisKey: 'y' },
            layout: { padding: { top: PAD, right: PAD, left: 0, bottom: 0 } },
            plugins: { legend: { display: false }, tooltip: { enabled: false } },
            scales: {
                x: {
                    type: 'linear',
                    min: -14,
                    max: 315,
                    afterBuildTicks(s) { s.ticks = X_TICKS.map((v) => ({ value: v })); },
                    afterFit(s) { s.height = AX_H; s.paddingLeft = 0; s.paddingRight = 0; },
                    ticks: {
                        display: r === 2, autoSkip: false, maxRotation: 0, padding: 4,
                        color: '#262626', font: { family: FONT, size: 10 },
                    },
                    grid: { color: '#e0e0e0', drawTicks: false },
                    border: { display: false },
                },
                y: {
                    type: 'logarithmic',
                    min: yMin,
                    max: yMax,
                    afterBuildTicks(s) {
                        const ticks = [];
                        for (let e = Math.ceil(Math.log10(yMin)); e <= Math.floor(Math.log10(yMax)); e++) {
                            ticks.push({ value: Math.pow(10, e) });
                        }
                        s.ticks = ticks;
                    },
                    afterFit(s) { s.width = AX_W; s.paddingTop = 0; s.paddingBottom = 0; },
                    ticks: { display: false, autoSkip: false },
                    grid: { color: '#e0e0e0', drawTicks: false },
                    border: { display: false },
                },
            },
        },
        plugins: [framePlugin, logTickPlugin],
    });
});

ROW_TOP.forEach((t) => addText('Loss', 13, t + PLOT_H / 2, 10, ' rotate(-90deg)'));
COL_LEFT.forEach((l) => addText('Episodes', l + PLOT_W / 2, 594, 10));

// ── Legend ────────────────────────────────────────────────────────────────────
const legend = document.createElement('div');
legend.id = 'legend';
const lt = document.createElement('div');
lt.className = 'txt';
lt.textContent = 'Nodes';
lt.style.cssText += 'left:3px;top:2px;font-size:10px;';
legend.appendChild(lt);
SERIES_LABELS.forEach((name, k) => {
    const y = 18 + k * 10.2;
    const line = document.createElement('div');
    line.style.cssText = `position:absolute;left:2px;top:${y}px;width:15px;height:1px;background:${SERIES_COLORS[k]};opacity:0.8;`;
    legend.appendChild(line);
    const t = document.createElement('div');
    t.className = 'txt';
    t.textContent = name;
    t.style.cssText += `left:21px;top:${y - 4}px;font-size:8.5px;`;
    legend.appendChild(t);
});
fig.appendChild(legend);
</script>
</body>
</html>
